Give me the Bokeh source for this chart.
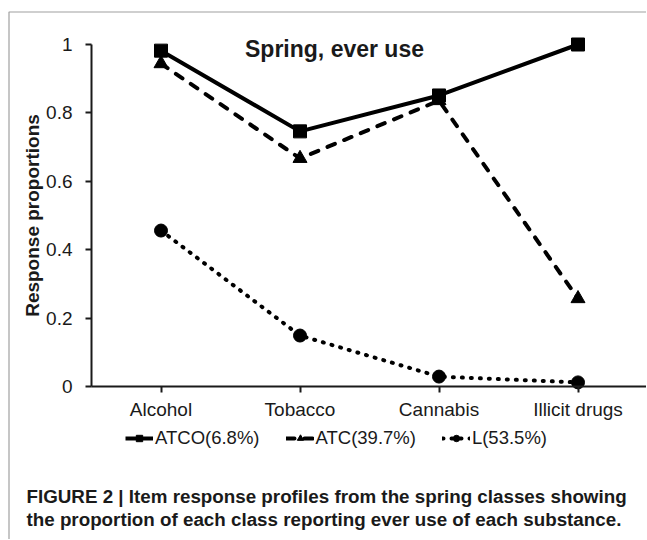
from bokeh.plotting import figure
from bokeh.models import Label, Legend, LegendItem, FixedTicker, Range1d, BoxAnnotation
from bokeh.embed import file_html
from bokeh.resources import INLINE

categories = ["Alcohol", "Tobacco", "Cannabis", "Illicit drugs"]
atco = [0.982, 0.746, 0.851, 1.0]
atc = [0.944, 0.667, 0.836, 0.257]
l_class = [0.456, 0.149, 0.029, 0.012]
series_names = ["ATCO(6.8%)", "ATC(39.7%)", "L(53.5%)"]
y_ticks = [0, 0.2, 0.4, 0.6, 0.8, 1.0]
y_tick_labels = ["0", "0.2", "0.4", "0.6", "0.8", "1"]
title_text = "Spring, ever use"
y_label = "Response proportions"
caption_lines = [
    "FIGURE 2 | Item response profiles from the spring classes showing",
    "the proportion of each class reporting ever use of each substance.",
]

FONT = "Liberation Sans"
INK = "#1a1a1a"

xpos = list(range(len(categories)))

# layout geometry (pixels)
W, H = 646, 539
PX_X = 139.0          # pixels per category
PX_Y = 342.0          # pixels per unit proportion
AX_LEFT = 91          # y-axis distance from figure left
Y0 = 386              # y=0 distance from figure top

x_lo = -0.5 - AX_LEFT / PX_X
x_hi = x_lo + W / PX_X
y_hi = Y0 / PX_Y
y_lo = y_hi - H / PX_Y

p = figure(
    width=W, height=H,
    x_range=Range1d(x_lo, x_hi), y_range=Range1d(y_lo, y_hi),
    output_backend="svg", toolbar_location=None,
    min_border=0,
)
p.outline_line_color = None
p.xgrid.grid_line_color = None
p.ygrid.grid_line_color = None
p.background_fill_color = "white"
p.border_fill_color = "white"

for ax in (p.xaxis[0], p.yaxis[0]):
    ax.axis_line_color = INK
    ax.axis_line_width = 2
    ax.major_tick_line_color = INK
    ax.major_tick_line_width = 2
    ax.minor_tick_line_color = None
    ax.major_label_text_font = FONT
    ax.major_label_text_font_size = "19px"
    ax.major_label_text_color = INK
    ax.major_tick_in = 0

p.xaxis.fixed_location = 0
p.xaxis.bounds = (-0.5, len(categories) - 0.5)
p.xaxis.ticker = FixedTicker(ticks=xpos)
p.xaxis.major_label_overrides = {i: c for i, c in zip(xpos, categories)}
p.xaxis.major_tick_out = 6
p.xaxis.major_label_standoff = 6

p.yaxis.fixed_location = -0.5
p.yaxis.bounds = (0, 1)
p.yaxis.ticker = FixedTicker(ticks=y_ticks)
p.yaxis.major_label_overrides = {t: s for t, s in zip(y_ticks, y_tick_labels)}
p.yaxis.major_tick_out = 6
p.yaxis.major_label_standoff = 13
p.yaxis.axis_label = y_label
p.yaxis.axis_label_text_font = FONT
p.yaxis.axis_label_text_font_style = "bold"
p.yaxis.axis_label_text_font_size = "19px"
p.yaxis.axis_label_text_color = INK
p.yaxis.axis_label_standoff = 0

# thin grey frame (left and top edges) around the figure panel
p.add_layout(BoxAnnotation(left=x_lo + 8.5 / PX_X, top=y_hi - 11.5 / PX_Y,
                           right=x_hi + 1, bottom=y_lo - 1,
                           fill_alpha=0, line_color="#a0a0a0", line_width=1.2, line_alpha=1))

r1l = p.line(xpos, atco, line_color="black", line_width=4)
r1m = p.scatter(xpos, atco, marker="square", size=13, color="black")
r2l = p.line(xpos, atc, line_color="black", line_width=4, line_dash="8 10", line_cap="round")
r2m = p.scatter(xpos, atc, marker="triangle", size=14, color="black")
r3l = p.line(xpos, l_class, line_color="black", line_width=4, line_dash="1 8", line_cap="round")
r3m = p.scatter(xpos, l_class, marker="circle", size=13, color="black")

legend = Legend(
    items=[
        LegendItem(label=series_names[0], renderers=[r1l, r1m]),
        LegendItem(label=series_names[1], renderers=[r2l, r2m]),
        LegendItem(label=series_names[2], renderers=[r3l, r3m]),
    ],
    location=(125, 90), orientation="horizontal",
    glyph_width=28, glyph_height=16, label_standoff=2, spacing=26,
    padding=0, margin=0, border_line_alpha=0, background_fill_alpha=0,
    label_text_font=FONT, label_text_font_size="18.5px", label_text_color=INK,
)
p.add_layout(legend)

p.add_layout(Label(x=334, y=H - 48, x_units="screen", y_units="screen", text=title_text,
                   text_font=FONT, text_font_style="bold", text_font_size="23px",
                   text_color=INK, text_align="center", text_baseline="alphabetic"))

for i, line in enumerate(caption_lines):
    p.add_layout(Label(x=26, y=43 - 23 * i, x_units="screen", y_units="screen", text=line,
                       text_font=FONT, text_font_style="bold", text_font_size="18.8px",
                       text_color=INK, text_align="left", text_baseline="alphabetic"))

open("out.html", "w").write(file_html(p, INLINE))
